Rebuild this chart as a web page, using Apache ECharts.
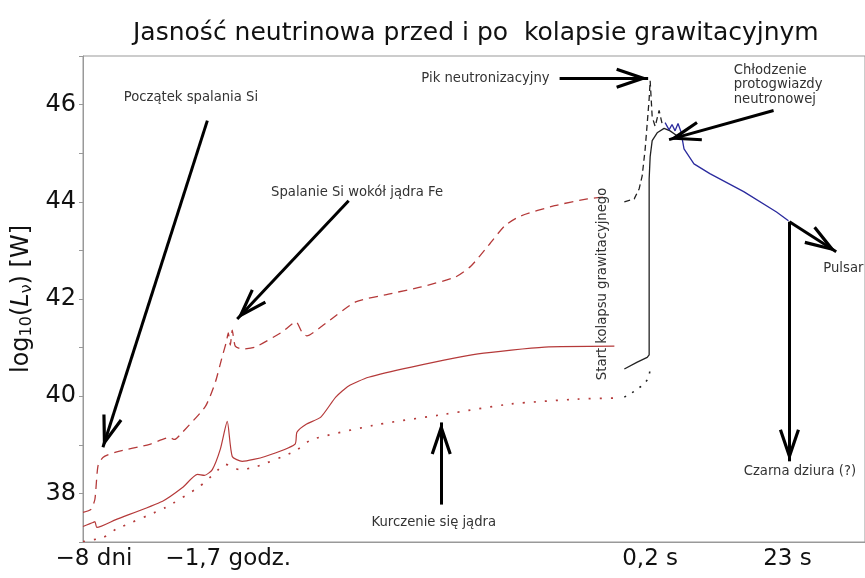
<!DOCTYPE html>
<html>
<head>
    <meta charset="utf-8">
    <title>Jasność neutrinowa</title>
    <script src="https://cdn.jsdelivr.net/npm/echarts@6/dist/echarts.min.js"></script>
    <style>
        html, body { margin: 0; padding: 0; background: #fff; }
    </style>
</head>
<body>
    <div id="main" style="width: 865px;height:578px;"></div>
    <script type="text/javascript">
// x is an abstract time position (0..100 across the plot), y is log10(L) in W
var xLabelPos = [1.41, 18.67, 72.89, 90.54];
var xLabelText = ['\u22128 dni', '\u22121,7 godz.', '0,2 s', '23 s'];
var collapseX = 68.16;

var redDashX = [0, 1.02, 1.53, 1.92, 2.56, 4.22, 8.57, 11.13, 11.76, 12.79, 15.73, 17.01, 17.90, 18.41, 18.67, 18.93, 19.18, 19.57, 20.46, 22.12, 25.58, 27.37, 28.13, 28.77, 30.69, 35.04, 39.26, 43.48, 47.83, 49.87, 52.05, 54.22, 56.27, 60.61, 64.83, 67.01];
var redDashY = [37.61, 37.67, 37.88, 38.56, 38.74, 38.85, 39.01, 39.15, 39.11, 39.26, 39.79, 40.29, 40.82, 41.11, 41.30, 41.05, 41.36, 41.03, 40.97, 41.01, 41.32, 41.53, 41.32, 41.24, 41.44, 41.94, 42.10, 42.25, 42.45, 42.68, 43.09, 43.51, 43.71, 43.92, 44.06, 44.10];

var redSolidX = [0, 1.28, 1.53, 1.79, 4.22, 10.23, 12.79, 14.71, 15.60, 16.62, 17.65, 18.54, 19.18, 20.46, 23.40, 27.24, 27.49, 28.64, 30.56, 32.48, 34.14, 36.70, 42.20, 50.77, 59.34, 68.29];
var redSolidY = [37.32, 37.40, 37.42, 37.30, 37.46, 37.84, 38.12, 38.39, 38.37, 38.49, 38.91, 39.48, 38.76, 38.66, 38.76, 39.01, 39.26, 39.42, 39.57, 39.98, 40.21, 40.39, 40.60, 40.87, 41.01, 41.03];

var redDotX = [0, 2.56, 4.22, 10.61, 14.96, 17.01, 18.29, 20.08, 22.12, 27.24, 29.41, 37.98, 46.55, 54.99, 63.55, 68.16];
var redDotY = [37.01, 37.09, 37.26, 37.71, 38.14, 38.43, 38.60, 38.49, 38.54, 38.87, 39.11, 39.42, 39.63, 39.84, 39.94, 39.96];

var blackDotX = [69.57, 70.84, 72.12, 72.76, 72.89];
var blackDotY = [39.98, 40.10, 40.25, 40.39, 40.60];

var blackSolidX = [69.57, 71.23, 72.51, 72.76, 72.76, 72.89, 73.15, 73.79, 74.68, 75.45, 76.34];
var blackSolidY = [40.56, 40.70, 40.80, 40.85, 44.47, 44.93, 45.26, 45.42, 45.51, 45.46, 45.36];

var blackDashX = [69.57, 70.84, 71.48, 71.87, 72.25, 72.51, 72.76, 72.89, 73.02, 73.15, 73.53, 74.04, 74.42];
var blackDashY = [44.00, 44.06, 44.27, 44.54, 45.09, 45.61, 46.12, 46.49, 46.49, 45.75, 45.55, 45.88, 45.61];

var blueX = [74.81, 75.32, 75.70, 76.09, 76.47, 76.85, 77.24, 78.52, 80.56, 84.91, 89.13, 90.66];
var blueY = [45.63, 45.48, 45.59, 45.46, 45.61, 45.44, 45.09, 44.78, 44.58, 44.21, 43.79, 43.61];

// annotation arrows: [fromX, fromY, toX, toY]
var arrows = [
    [15.98, 45.67, 2.56, 38.95],
    [34.14, 44.02, 19.82, 41.59],
    [46.04, 37.77, 46.04, 39.46],
    [61.25, 46.54, 72.63, 46.54],
    [88.75, 45.88, 75.32, 45.28],
    [90.79, 43.59, 96.80, 42.97],
    [90.79, 43.59, 90.79, 38.66]
];

// annotation texts: [x, y, text]
var notes = [
    [5.24, 46.15, 'Początek spalania Si'],
    [24.17, 44.19, 'Spalanie Si wokół jądra Fe'],
    [37.08, 37.40, 'Kurczenie się jądra'],
    [43.48, 46.54, 'Pik neutronizacyjny'],
    [83.63, 46.41, 'Chłodzenie\nprotogwiazdy\nneutronowej'],
    [95.14, 42.62, 'Pulsar'],
    [84.91, 38.45, 'Czarna dziura (?)']
];

function zip(xs, ys) {
    return xs.map(function (x, i) { return [x, ys[i]]; });
}

var font = 'DejaVu Sans';
var noteSize = 13.2;
var headPath = 'path://M11,0 L21.5,31 L18.5,32 L11,10 L3.5,32 L0.5,31 Z';

var myChart = echarts.init(document.getElementById('main'));

option = {
    animation: false,
    backgroundColor: '#fff',
    title: {
        text: 'Jasność neutrinowa przed i po  kolapsie grawitacyjnym',
        left: 128,
        top: 16,
        textStyle: { fontFamily: font, fontSize: 25, fontWeight: 'normal', color: '#111' }
    },
    grid: {
        left: 83, right: -4, top: 56, bottom: 36,
        show: true, borderColor: '#999', borderWidth: 1
    },
    xAxis: {
        type: 'value',
        min: 0,
        max: 100.5,
        axisLine: { lineStyle: { color: '#999' } },
        axisTick: { show: false },
        splitLine: { show: false },
        axisLabel: {
            customValues: xLabelPos,
            margin: 6,
            fontFamily: font,
            fontSize: 23,
            color: '#111',
            formatter: function (v) {
                var i = xLabelPos.indexOf(v);
                return i < 0 ? '' : xLabelText[i];
            }
        }
    },
    yAxis: {
        type: 'value',
        min: 37,
        max: 47,
        interval: 1,
        name: '{a|log}{s|10}{a|(}{i|L}{s|ν}{a|) [W]}',
        nameLocation: 'middle',
        nameGap: 38,
        nameTextStyle: {
            rich: {
                a: { fontFamily: font, fontSize: 24, color: '#111' },
                i: { fontFamily: font, fontSize: 24, color: '#111', fontStyle: 'italic' },
                s: { fontFamily: font, fontSize: 16, color: '#111', verticalAlign: 'bottom', padding: [10, 0, 0, 0] }
            }
        },
        axisLine: { show: true, lineStyle: { color: '#999' } },
        axisTick: { show: true, length: 4, lineStyle: { color: '#999' } },
        splitLine: { show: false },
        axisLabel: {
            margin: 7,
            fontFamily: font,
            fontSize: 24,
            color: '#111',
            formatter: function (v) { return v % 2 === 0 ? String(v) : ''; }
        }
    },
    series: [
        {
            name: 'red dashed', type: 'line', data: zip(redDashX, redDashY),
            showSymbol: false, smooth: 0.2, silent: true,
            lineStyle: { color: '#b53a3a', width: 1.3, type: [9, 6] }
        },
        {
            name: 'red solid', type: 'line', data: zip(redSolidX, redSolidY),
            showSymbol: false, smooth: 0.2, silent: true,
            lineStyle: { color: '#b53a3a', width: 1.2 }
        },
        {
            name: 'red dotted', type: 'line', data: zip(redDotX, redDotY),
            showSymbol: false, smooth: 0.2, silent: true,
            lineStyle: { color: '#b53a3a', width: 1.7, type: [2, 9] }
        },
        {
            name: 'black dotted', type: 'line', data: zip(blackDotX, blackDotY),
            showSymbol: false, silent: true,
            lineStyle: { color: '#222', width: 1.6, type: [2, 7] }
        },
        {
            name: 'black dashed', type: 'line', data: zip(blackDashX, blackDashY),
            showSymbol: false, silent: true,
            lineStyle: { color: '#222', width: 1.3, type: [6, 4] }
        },
        {
            name: 'black solid', type: 'line', data: zip(blackSolidX, blackSolidY),
            showSymbol: false, silent: true,
            lineStyle: { color: '#222', width: 1.3 }
        },
        {
            name: 'blue', type: 'line', data: zip(blueX, blueY),
            showSymbol: false, silent: true,
            lineStyle: { color: '#2b2b9e', width: 1.3 }
        },
        {
            name: 'annotations', type: 'line', data: [],
            silent: true,
            markLine: {
                silent: true,
                animation: false,
                symbol: ['none', 'none'],
                label: { show: false },
                emphasis: { disabled: true },
                data: [[{ xAxis: collapseX, lineStyle: { color: '#888', width: 1, type: 'solid' } }, { xAxis: collapseX, yAxis: 47 }]]
                    .concat(arrows.map(function (a) {
                        return [
                            { coord: [a[0], a[1]], lineStyle: { color: '#000', width: 3, type: 'solid' } },
                            { coord: [a[2], a[3]], symbol: headPath, symbolSize: [21, 32], symbolOffset: [0, 16] }
                        ];
                    }))
            },
            markPoint: {
                silent: true,
                animation: false,
                symbol: 'circle',
                symbolSize: 0,
                data: notes.map(function (n) {
                    return {
                        coord: [n[0], n[1]],
                        itemStyle: { color: '#000' },
                        label: {
                            show: true, position: 'right', distance: 0,
                            formatter: n[2], fontFamily: font, fontSize: noteSize,
                            color: '#333', lineHeight: 14.5, align: 'left'
                        }
                    };
                }).concat([{
                    coord: [66.75, 42.31],
                    itemStyle: { color: '#000' },
                    label: {
                        show: true, position: 'inside', rotate: 90,
                        formatter: 'Start kolapsu grawitacyjnego',
                        fontFamily: font, fontSize: noteSize, color: '#333'
                    }
                }])
            }
        }
    ]
};

myChart.setOption(option);
    </script>
</body>
</html>
